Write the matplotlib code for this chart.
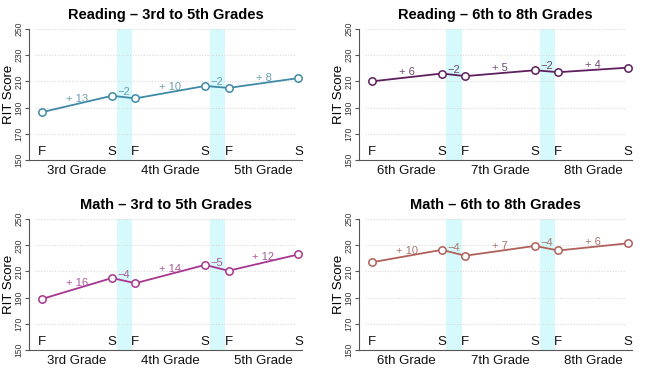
#!/usr/bin/env python3
import matplotlib
matplotlib.use("Agg")
import matplotlib.pyplot as plt

# Panel data
TITLES = [
    "Reading – 3rd to 5th Grades",
    "Reading – 6th to 8th Grades",
    "Math – 3rd to 5th Grades",
    "Math – 6th to 8th Grades",
]
GRADES_LOW = ["3rd Grade", "4th Grade", "5th Grade"]
GRADES_HIGH = ["6th Grade", "7th Grade", "8th Grade"]
SEASONS = ["F", "S", "F", "S", "F", "S"]

READING_35 = [186.5, 199, 197, 206.5, 205, 212.5]
READING_68 = [210, 216, 214, 218.5, 217, 220.5]
MATH_35 = [189, 205, 201, 215, 210.5, 223]
MATH_68 = [217, 226.5, 222, 229.5, 226, 231.5]

CHG_READING_35 = ["+ 13", "\u22122", "+ 10", "\u22122", "+ 8"]
CHG_READING_68 = ["+ 6", "\u22122", "+ 5", "\u22122", "+ 4"]
CHG_MATH_35 = ["+ 16", "\u22124", "+ 14", "\u22125", "+ 12"]
CHG_MATH_68 = ["+ 10", "\u22124", "+ 7", "\u22124", "+ 6"]

YTICKS = [150, 170, 190, 210, 230, 250]

LINE_COLORS = ["#3f8aa6", "#5e1f5e", "#a8358f", "#b0605a"]
LABEL_COLORS = ["#6a9db2", "#6e4a6e", "#a85a98", "#a87670"]
BAND = "#d6fafc"
AXIS = "#555555"

plt.rcParams["font.family"] = ["Liberation Sans", "DejaVu Sans"]

fig = plt.figure(figsize=(6.65, 3.79), dpi=100)
fig.patch.set_facecolor("white")

positions = [
    [0.044, 0.578, 0.410, 0.3455],
    [0.540, 0.578, 0.410, 0.3455],
    [0.044, 0.0765, 0.410, 0.3455],
    [0.540, 0.0765, 0.410, 0.3455],
]
panels = [
    (READING_35, CHG_READING_35, GRADES_LOW),
    (READING_68, CHG_READING_68, GRADES_HIGH),
    (MATH_35, CHG_MATH_35, GRADES_LOW),
    (MATH_68, CHG_MATH_68, GRADES_HIGH),
]

# fall at 4*g, spring at 4*g + 3
xs = [4 * (i // 2) + 3 * (i % 2) for i in range(6)]

for k, (vals, chg, grades) in enumerate(panels):
    ax = fig.add_axes(positions[k])
    ax.set_xlim(-0.55, 11.15)
    ax.set_ylim(150, 250)

    # summer gaps
    for g in range(2):
        ax.axvspan(4 * g + 3.2, 4 * g + 3.85, color=BAND, lw=0, zorder=0)

    ax.hlines(YTICKS[1:], -0.3, 10.9, colors="#d9d9d9", linestyles=(0, (1, 1.5)),
              lw=0.8, zorder=1)

    ax.plot(xs, vals, color=LINE_COLORS[k], lw=1.3, marker="o", ms=5.3,
            mfc="white", mec=LINE_COLORS[k], mew=1.1, zorder=3, clip_on=False)

    for i, lab in enumerate(chg):
        xm = (xs[i] + xs[i + 1]) / 2
        ym = (vals[i] + vals[i + 1]) / 2
        ax.text(xm, ym + 4, lab, ha="center", va="center", fontsize=8,
                color=LABEL_COLORS[k], zorder=4)

    for x, s in zip(xs, SEASONS):
        ax.text(x, 151.5, s, ha="center", va="bottom", fontsize=9.5, color="#111111")

    for g, name in enumerate(grades):
        ax.text(4 * g + 1.5, -0.035, name, transform=ax.get_xaxis_transform(),
                ha="center", va="top", fontsize=9.5, color="#111111")

    ax.set_title(TITLES[k], fontsize=10.5, fontweight="bold", pad=7)

    ax.set_yticks(YTICKS)
    ax.set_yticklabels([str(v) for v in YTICKS], rotation=90, va="center",
                       fontsize=6.2, color="#333333")
    ax.set_ylabel("RIT Score", fontsize=9.5)
    ax.yaxis.set_label_coords(-0.052, 0.5)
    ax.set_xticks([])
    ax.tick_params(axis="y", direction="out", length=3, width=0.8, color=AXIS, pad=1)

    for sp in ["top", "right"]:
        ax.spines[sp].set_visible(False)
    ax.spines["left"].set_color(AXIS)
    ax.spines["bottom"].set_color(AXIS)
    ax.spines["left"].set_linewidth(0.8)
    ax.spines["bottom"].set_linewidth(0.8)
    ax.set_facecolor("white")

fig.savefig("out.png", dpi=100)
